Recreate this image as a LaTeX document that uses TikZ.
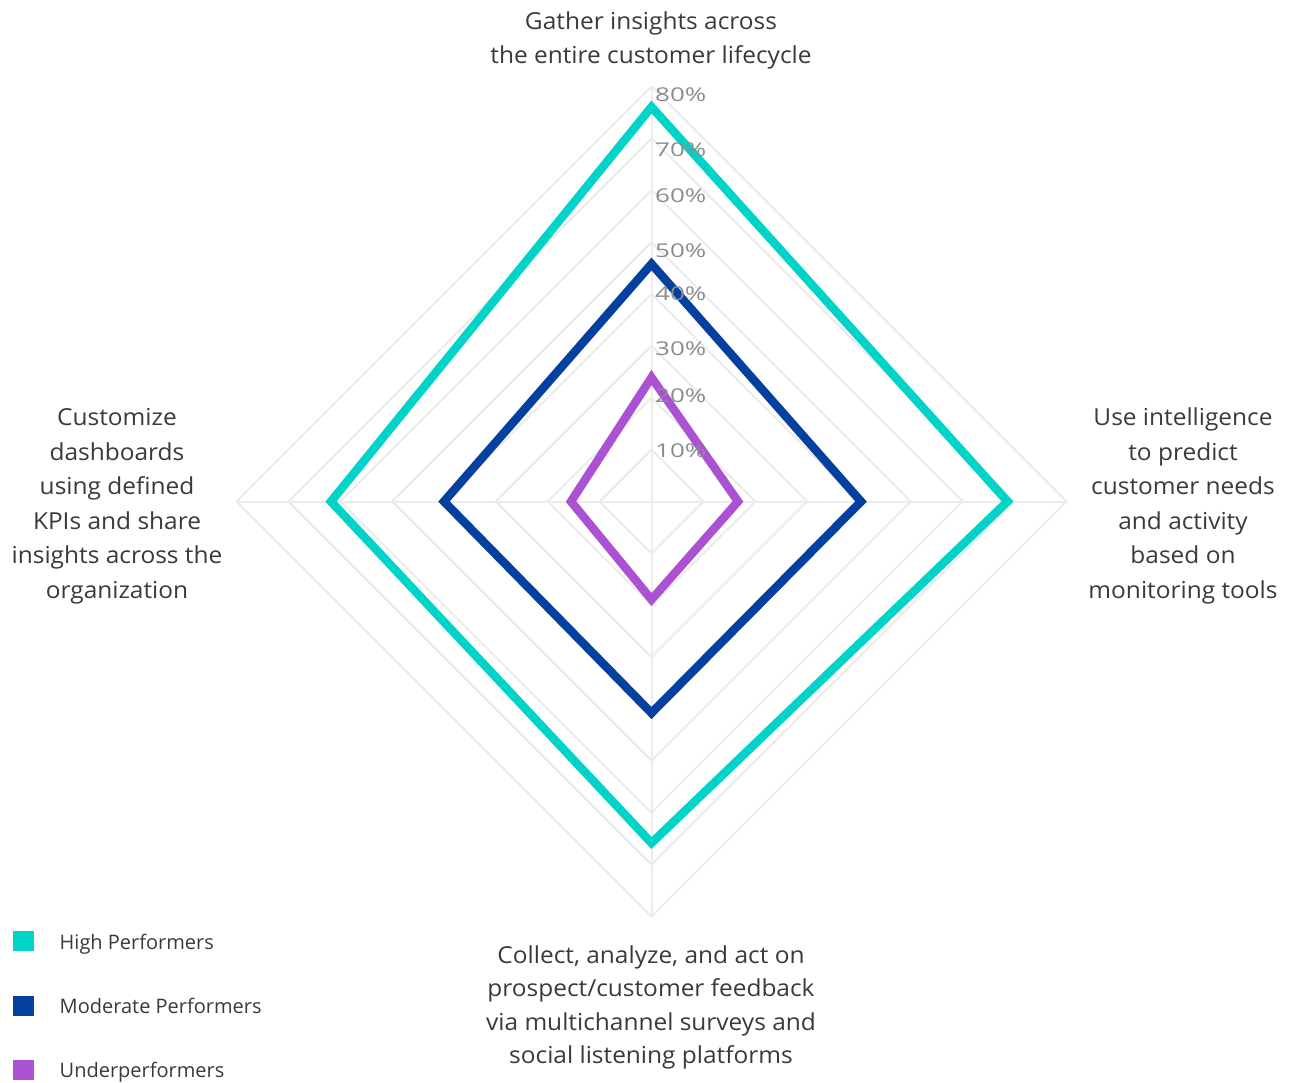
\documentclass[tikz,border=0pt]{standalone}
\usepackage{fontspec}
\setmainfont{Open Sans}
\newfontfamily\labfont{Open Sans}[FakeStretch=1.045]
\usepackage{graphicx}
\definecolor{hiC}{RGB}{0,211,200}
\definecolor{modC}{RGB}{3,64,160}
\definecolor{undC}{RGB}{170,82,210}
\definecolor{gridC}{RGB}{236,236,236}
\definecolor{txtC}{RGB}{58,58,58}
\definecolor{pctC}{RGB}{140,140,140}
\tikzset{
  gridline/.style={draw=gridC, line width=2pt},
  series/.style={line width=8.5pt, line join=miter},
  axislabel/.style={font=\labfont\fontsize{23.4}{34}\selectfont, text=txtC, align=center, inner sep=0pt, anchor=base},
  pctlabel/.style={font=\fontsize{19}{19}\selectfont, text=pctC, inner sep=0pt, anchor=west},
  legbox/.style={fill=#1, minimum width=21pt, minimum height=20pt, inner sep=0pt},
  legtext/.style={font=\fontsize{20}{20}\selectfont, text=txtC, inner sep=0pt, anchor=base west}
}
\begin{document}
\begin{tikzpicture}[x=1pt,y=-1pt]
\useasboundingbox (0,0) rectangle (1300,1083);
\fill[white] (0,0) rectangle (1300,1083);
\coordinate (C) at (651.5,501.5);
% grid diamonds
\foreach \k in {1,...,8}{
  \pgfmathsetmacro\r{\k*51.875}
  \draw[gridline, shift={(C)}] (0,-\r) -- (\r,0) -- (0,\r) -- (-\r,0) -- cycle;
}
% spokes
\coordinate (Ntop) at (651.5,86.5);
\coordinate (Nbot) at (651.5,916.5);
\coordinate (Nleft) at (236.5,501.5);
\coordinate (Nright) at (1066.5,501.5);
\draw[gridline] (Ntop) -- (Nbot);
\draw[gridline] (Nleft) -- (Nright);
% series
\draw[series, draw=hiC, shift={(C)}] (0,-394.5) -- (356,0) -- (0,341.5) -- (-320.5,0) -- cycle;
\draw[series, draw=modC, shift={(C)}] (0,-237.5) -- (209.5,0) -- (0,211.5) -- (-207.5,0) -- cycle;
\draw[series, draw=undC, shift={(C)}] (0,-124) -- (86.5,0) -- (0,98) -- (-80.5,0) -- cycle;
% percent labels
\node[pctlabel] (p80) at (655,95) {\scalebox{1.37}[1]{80\%}};
\node[pctlabel] (p70) at (655,149.5) {\scalebox{1.37}[1]{70\%}};
\node[pctlabel] (p60) at (655,195.8) {\scalebox{1.37}[1]{60\%}};
\node[pctlabel] (p50) at (655,250.8) {\scalebox{1.37}[1]{50\%}};
\node[pctlabel] (p40) at (655,294.2) {\scalebox{1.37}[1]{40\%}};
\node[pctlabel] (p30) at (655,349.2) {\scalebox{1.37}[1]{30\%}};
\node[pctlabel] (p20) at (655,395.8) {\scalebox{1.37}[1]{20\%}};
\node[pctlabel] (p10) at (655,450.8) {\scalebox{1.37}[1]{10\%}};
% axis labels (anchor base = baseline of last line)
\node[axislabel] (ltop) at (651,63.3) {Gather insights across\\the entire customer lifecycle};
\node[axislabel, font=\labfont\fontsize{23.4}{34.6}\selectfont] (lright) at (1183,598.5) {Use intelligence\\to predict\\customer needs\\and activity\\based on\\monitoring tools};
\node[axislabel, font=\labfont\fontsize{23.4}{34.6}\selectfont] (lleft) at (117,598.5) {Customize\\dashboards\\using defined\\KPIs and share\\insights across the\\organization};
\node[axislabel, font=\labfont\fontsize{23.4}{33.4}\selectfont] (lbot) at (651,1063.5) {Collect, analyze, and act on\\prospect/customer feedback\\via multichannel surveys and\\social listening platforms};
% legend
\node[legbox=hiC] (b1) at (23.5,941) {};
\node[legbox=modC] (b2) at (23.5,1006) {};
\node[legbox=undC] (b3) at (23.5,1070) {};
\node[legtext] (t1) at (59.5,949.3) {High Performers};
\node[legtext] (t2) at (59.5,1013.3) {Moderate Performers};
\node[legtext] (t3) at (59.5,1077.7) {Underperformers};
\end{tikzpicture}
\end{document}
